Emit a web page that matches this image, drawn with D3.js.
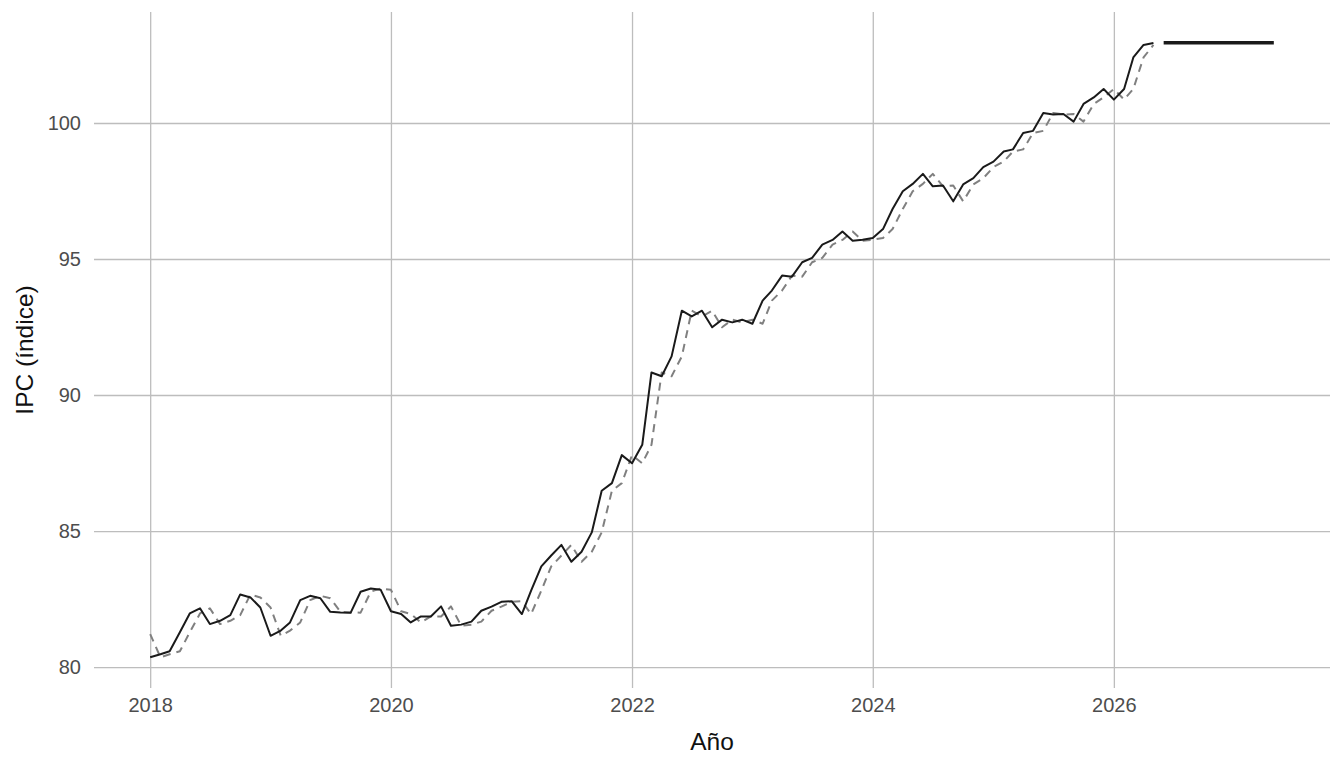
<!DOCTYPE html>
<html>
<head>
<meta charset="utf-8">
<script src="https://cdn.jsdelivr.net/npm/d3@7"></script>
<style>
  html, body { margin: 0; padding: 0; background: #ffffff; }
  svg { display: block; }
  text { font-family: "Liberation Sans", Arial, Helvetica, sans-serif; }
</style>
</head>
<body>
<svg id="chart" width="1344" height="768"></svg>
<script>
// ---- Data ----
const months = [
  "2018-01","2018-02","2018-03","2018-04","2018-05","2018-06","2018-07","2018-08","2018-09","2018-10","2018-11","2018-12",
  "2019-01","2019-02","2019-03","2019-04","2019-05","2019-06","2019-07","2019-08","2019-09","2019-10","2019-11","2019-12",
  "2020-01","2020-02","2020-03","2020-04","2020-05","2020-06","2020-07","2020-08","2020-09","2020-10","2020-11","2020-12",
  "2021-01","2021-02","2021-03","2021-04","2021-05","2021-06","2021-07","2021-08","2021-09","2021-10","2021-11","2021-12",
  "2022-01","2022-02","2022-03","2022-04","2022-05","2022-06","2022-07","2022-08","2022-09","2022-10","2022-11","2022-12",
  "2023-01","2023-02","2023-03","2023-04","2023-05","2023-06","2023-07","2023-08","2023-09","2023-10","2023-11","2023-12",
  "2024-01","2024-02","2024-03","2024-04","2024-05","2024-06","2024-07","2024-08","2024-09","2024-10","2024-11","2024-12",
  "2025-01","2025-02","2025-03","2025-04","2025-05","2025-06","2025-07","2025-08","2025-09","2025-10","2025-11","2025-12",
  "2026-01","2026-02","2026-03","2026-04","2026-05"
];

const ipcObserved = [
  80.36, 80.47, 80.58, 81.28, 81.97, 82.16, 81.58, 81.70, 81.91, 82.67, 82.56, 82.19,
  81.15, 81.34, 81.64, 82.46, 82.62, 82.53, 82.03, 82.01, 82.00, 82.77, 82.89, 82.84,
  82.05, 81.95, 81.64, 81.86, 81.86, 82.23, 81.52, 81.56, 81.67, 82.07, 82.22, 82.40,
  82.42, 81.95, 82.81, 83.70, 84.10, 84.49, 83.87, 84.24, 84.95, 86.48, 86.76, 87.79,
  87.49, 88.17, 90.83, 90.69, 91.42, 93.10, 92.89, 93.10, 92.49, 92.77, 92.67, 92.77,
  92.62, 93.47, 93.84, 94.39, 94.35, 94.88, 95.04, 95.53, 95.70, 96.01, 95.67, 95.71,
  95.77, 96.10, 96.84, 97.49, 97.76, 98.13, 97.67, 97.70, 97.12, 97.74, 97.97, 98.38,
  98.58, 98.95, 99.03, 99.63, 99.71, 100.37, 100.31, 100.33, 100.05, 100.70, 100.94, 101.25,
  100.86, 101.25, 102.41, 102.87, 102.94
];

const ipcFitted = [
  81.21, 80.36, 80.47, 80.58, 81.28, 81.97, 82.16, 81.58, 81.70, 81.91, 82.67, 82.56,
  82.19, 81.15, 81.34, 81.64, 82.46, 82.62, 82.53, 82.03, 82.01, 82.00, 82.77, 82.89,
  82.84, 82.05, 81.95, 81.64, 81.86, 81.86, 82.23, 81.52, 81.56, 81.67, 82.07, 82.22,
  82.40, 82.42, 81.95, 82.81, 83.70, 84.10, 84.49, 83.87, 84.24, 84.95, 86.48, 86.76,
  87.79, 87.49, 88.17, 90.83, 90.69, 91.42, 93.10, 92.89, 93.10, 92.49, 92.77, 92.67,
  92.77, 92.62, 93.47, 93.84, 94.39, 94.35, 94.88, 95.04, 95.53, 95.70, 96.01, 95.67,
  95.71, 95.77, 96.10, 96.84, 97.49, 97.76, 98.13, 97.67, 97.70, 97.12, 97.74, 97.97,
  98.38, 98.58, 98.95, 99.03, 99.63, 99.71, 100.37, 100.31, 100.33, 100.05, 100.70, 100.94,
  101.25, 100.86, 101.25, 102.41, 102.87
];

const forecastMonths = [
  "2026-06","2026-07","2026-08","2026-09","2026-10","2026-11","2026-12",
  "2027-01","2027-02","2027-03","2027-04","2027-05"
];
const forecastValues = [
  102.95, 102.95, 102.95, 102.95, 102.95, 102.95, 102.95,
  102.95, 102.95, 102.95, 102.95, 102.95
];

const xTickYears = [2018, 2020, 2022, 2024, 2026];
const yTicks = [80, 85, 90, 95, 100];
const xTitle = "Año";
const yTitle = "IPC (índice)";

// ---- Build ----
const parse = d3.timeParse("%Y-%m");
const observed = months.map((m, i) => ({ date: parse(m), value: ipcObserved[i] }));
const fitted = months.map((m, i) => ({ date: parse(m), value: ipcFitted[i] }));
const forecast = forecastMonths.map((m, i) => ({ date: parse(m), value: forecastValues[i] }));
const all = observed.concat(fitted, forecast);

const panel = { left: 94, right: 1330, top: 12, bottom: 688 };

function expand(ext, f) {
  const span = ext[1] - ext[0];
  return [ext[0] - span * f, ext[1] + span * f];
}
const dateExt = d3.extent(all, d => +d.date);
const xDom = expand(dateExt, 0.05).map(t => new Date(t));
const yDom = expand(d3.extent(all, d => d.value), 0.05);

const x = d3.scaleTime().domain(xDom).range([panel.left, panel.right]);
const y = d3.scaleLinear().domain(yDom).range([panel.bottom, panel.top]);

const svg = d3.select("#chart");
svg.append("rect").attr("width", 1344).attr("height", 768).attr("fill", "#ffffff");

const gridColor = "#bdbdbd";
const gridW = 1.3;

// horizontal gridlines + y axis labels
const yAxis = d3.axisLeft(y).tickValues(yTicks).tickSize(-(panel.right - panel.left)).tickPadding(13);
const gy = svg.append("g").attr("transform", `translate(${panel.left},0)`).call(yAxis);
gy.select(".domain").remove();
gy.selectAll(".tick line").attr("stroke", gridColor).attr("stroke-width", gridW);
gy.selectAll(".tick text")
  .attr("fill", "#4d4d4d")
  .style("font-size", "20px")
  .style("font-family", "'Liberation Sans', Arial, sans-serif");

// vertical gridlines + x axis labels
const xTickDates = xTickYears.map(yr => new Date(yr, 0, 1));
const xAxis = d3.axisBottom(x).tickValues(xTickDates).tickFormat(d3.timeFormat("%Y"))
  .tickSize(-(panel.bottom - panel.top)).tickPadding(10);
const gx = svg.append("g").attr("transform", `translate(0,${panel.bottom})`).call(xAxis);
gx.select(".domain").remove();
gx.selectAll(".tick line").attr("stroke", gridColor).attr("stroke-width", gridW);
gx.selectAll(".tick text")
  .attr("fill", "#4d4d4d")
  .style("font-size", "20px")
  .style("font-family", "'Liberation Sans', Arial, sans-serif");

// lines
const line = d3.line().x(d => x(d.date)).y(d => y(d.value));

svg.append("path")
  .datum(fitted)
  .attr("fill", "none")
  .attr("stroke", "#808080")
  .attr("stroke-width", 2)
  .attr("stroke-dasharray", "8,6")
  .attr("stroke-linejoin", "round")
  .attr("d", line);

svg.append("path")
  .datum(observed)
  .attr("fill", "none")
  .attr("stroke", "#1a1a1a")
  .attr("stroke-width", 2)
  .attr("stroke-linejoin", "round")
  .attr("d", line);

svg.append("path")
  .datum(forecast)
  .attr("fill", "none")
  .attr("stroke", "#1a1a1a")
  .attr("stroke-width", 3.4)
  .attr("d", line);

// axis titles
svg.append("text")
  .attr("x", (panel.left + panel.right) / 2)
  .attr("y", 750)
  .attr("text-anchor", "middle")
  .attr("fill", "#111111")
  .style("font-size", "24.5px")
  .text(xTitle);

svg.append("text")
  .attr("transform", `translate(33,${(panel.top + panel.bottom) / 2}) rotate(-90)`)
  .attr("text-anchor", "middle")
  .attr("fill", "#111111")
  .style("font-size", "24.5px")
  .text(yTitle);
</script>
</body>
</html>
